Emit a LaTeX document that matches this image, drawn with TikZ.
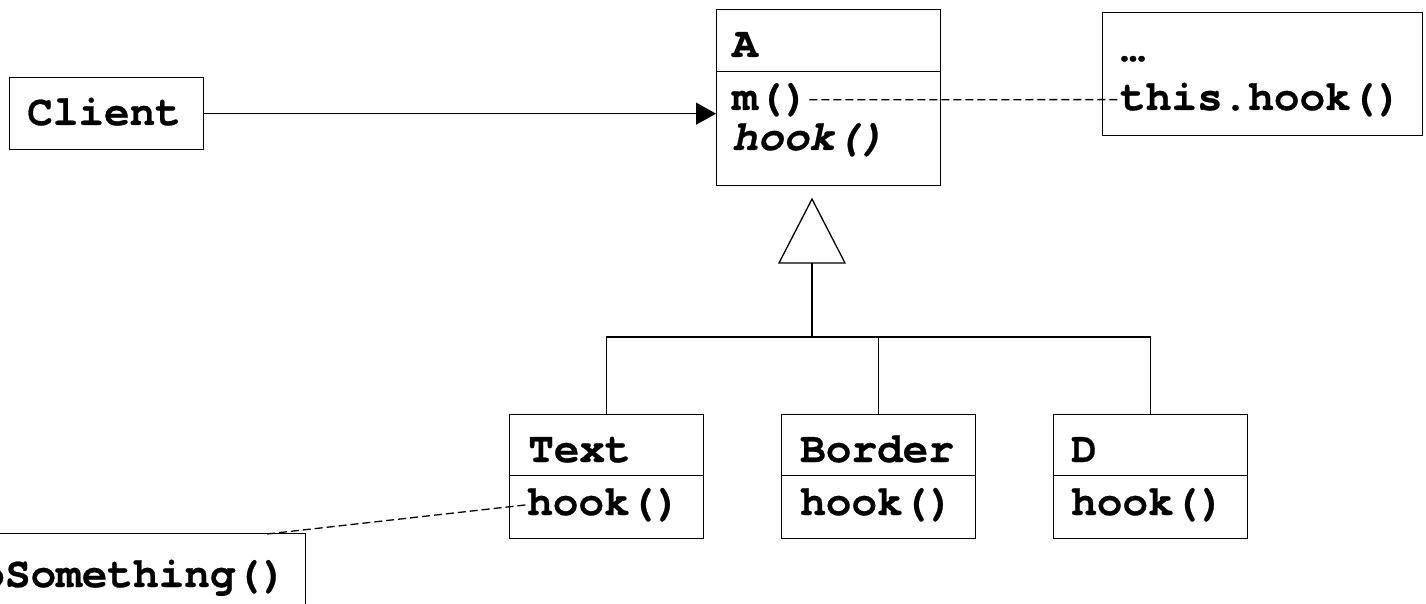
\documentclass[tikz,border=0pt]{standalone}
\usepackage{fontspec}
\setmainfont{texgyrecursor}[
  Extension=.otf,
  UprightFont=*-regular,
  BoldFont=*-bold,
  ItalicFont=*-italic,
  BoldItalicFont=*-bolditalic,
  BoldFeatures={FakeBold=0.6},
  BoldItalicFeatures={FakeBold=0.6}]
\usetikzlibrary{arrows.meta}
\begin{document}
\begin{tikzpicture}[x=1pt,y=-1pt,
  every node/.style={font=\fontsize{42.7}{48}\selectfont\bfseries},
  frame/.style={draw, line width=1.3pt, inner sep=0pt, anchor=north west},
  lbl/.style={inner sep=0pt, anchor=base west},
  plain/.style={line width=1.3pt},
  heavy/.style={line width=2.3pt},
  link/.style={line width=1.3pt, dash pattern=on 8pt off 4pt},
  call/.style={line width=1.3pt, -{Triangle[length=20pt,width=22pt]}},
]
\useasboundingbox (0,0) rectangle (1426,604);
\clip (0,0) rectangle (1426,604);

% client
\node[frame, minimum width=194pt, minimum height=72pt] (client) at (9,77) {};
\node[lbl] (clientname) at (27,125) {Client};

% abstract class A
\node[frame, minimum width=224pt, minimum height=62pt] (Ahead) at (716,9) {};
\node[frame, minimum width=224pt, minimum height=114pt] (Abody) at (716,71) {};
\node[lbl] (Aname) at (732,57) {A};
\node[lbl] (Am) at (732,110) {m()};
\node[lbl] (Ahook) at (732,150) {\itshape hook()};

% note attached to m()
\node[frame, minimum width=320pt, minimum height=123pt] (mnote) at (1102,12) {};
\node[lbl] (mdots) at (1120,61) {…};
\node[lbl] (mcall) at (1120,110) {this.hook()};

% subclasses
\node[frame, minimum width=194pt, minimum height=61pt] (Thead) at (509,414) {};
\node[frame, minimum width=194pt, minimum height=63pt] (Tbody) at (509,475) {};
\node[lbl] (Tname) at (528,462) {Text};
\node[lbl] (Thook) at (527,515) {hook()};

\node[frame, minimum width=194pt, minimum height=61pt] (Bhead) at (781,414) {};
\node[frame, minimum width=194pt, minimum height=63pt] (Bbody) at (781,475) {};
\node[lbl] (Bname) at (800,462) {Border};
\node[lbl] (Bhook) at (800,515) {hook()};

\node[frame, minimum width=194pt, minimum height=61pt] (Dhead) at (1053,414) {};
\node[frame, minimum width=194pt, minimum height=63pt] (Dbody) at (1053,475) {};
\node[lbl] (Dname) at (1071,462) {D};
\node[lbl] (Dhook) at (1071,515) {hook()};

% note attached to Text.hook()
\node[frame, minimum width=405pt, minimum height=110pt] (tnote) at (-100,533) {};
\node[inner sep=0pt, anchor=base east] (tcall) at (287,587) {doSomething()};
\coordinate (tnotelink) at (267,534);

% client calls A
\draw[call] (client.east) -- (Abody.west |- client.east);

% note links
\draw[link] (Am.east) -- (mcall.west);
\draw[link] (tnotelink) -- (Thook.west);

% generalization
\coordinate (tritop) at (812,199);
\coordinate (trileft) at (779,263);
\coordinate (triright) at (845,263);
\coordinate (tribase) at (812,263);
\coordinate (bus) at (812,337);
\draw[plain, line join=miter] (tritop) -- (trileft) -- (triright) -- cycle;
\draw[heavy] (tribase) -- (bus);
\draw[plain] (Thead.north) |- (bus) -| (Dhead.north);
\draw[plain] (bus) -| (Bhead.north);
\draw[line width=2pt] (bus) -- (Bhead.north |- bus);
\end{tikzpicture}
\end{document}
